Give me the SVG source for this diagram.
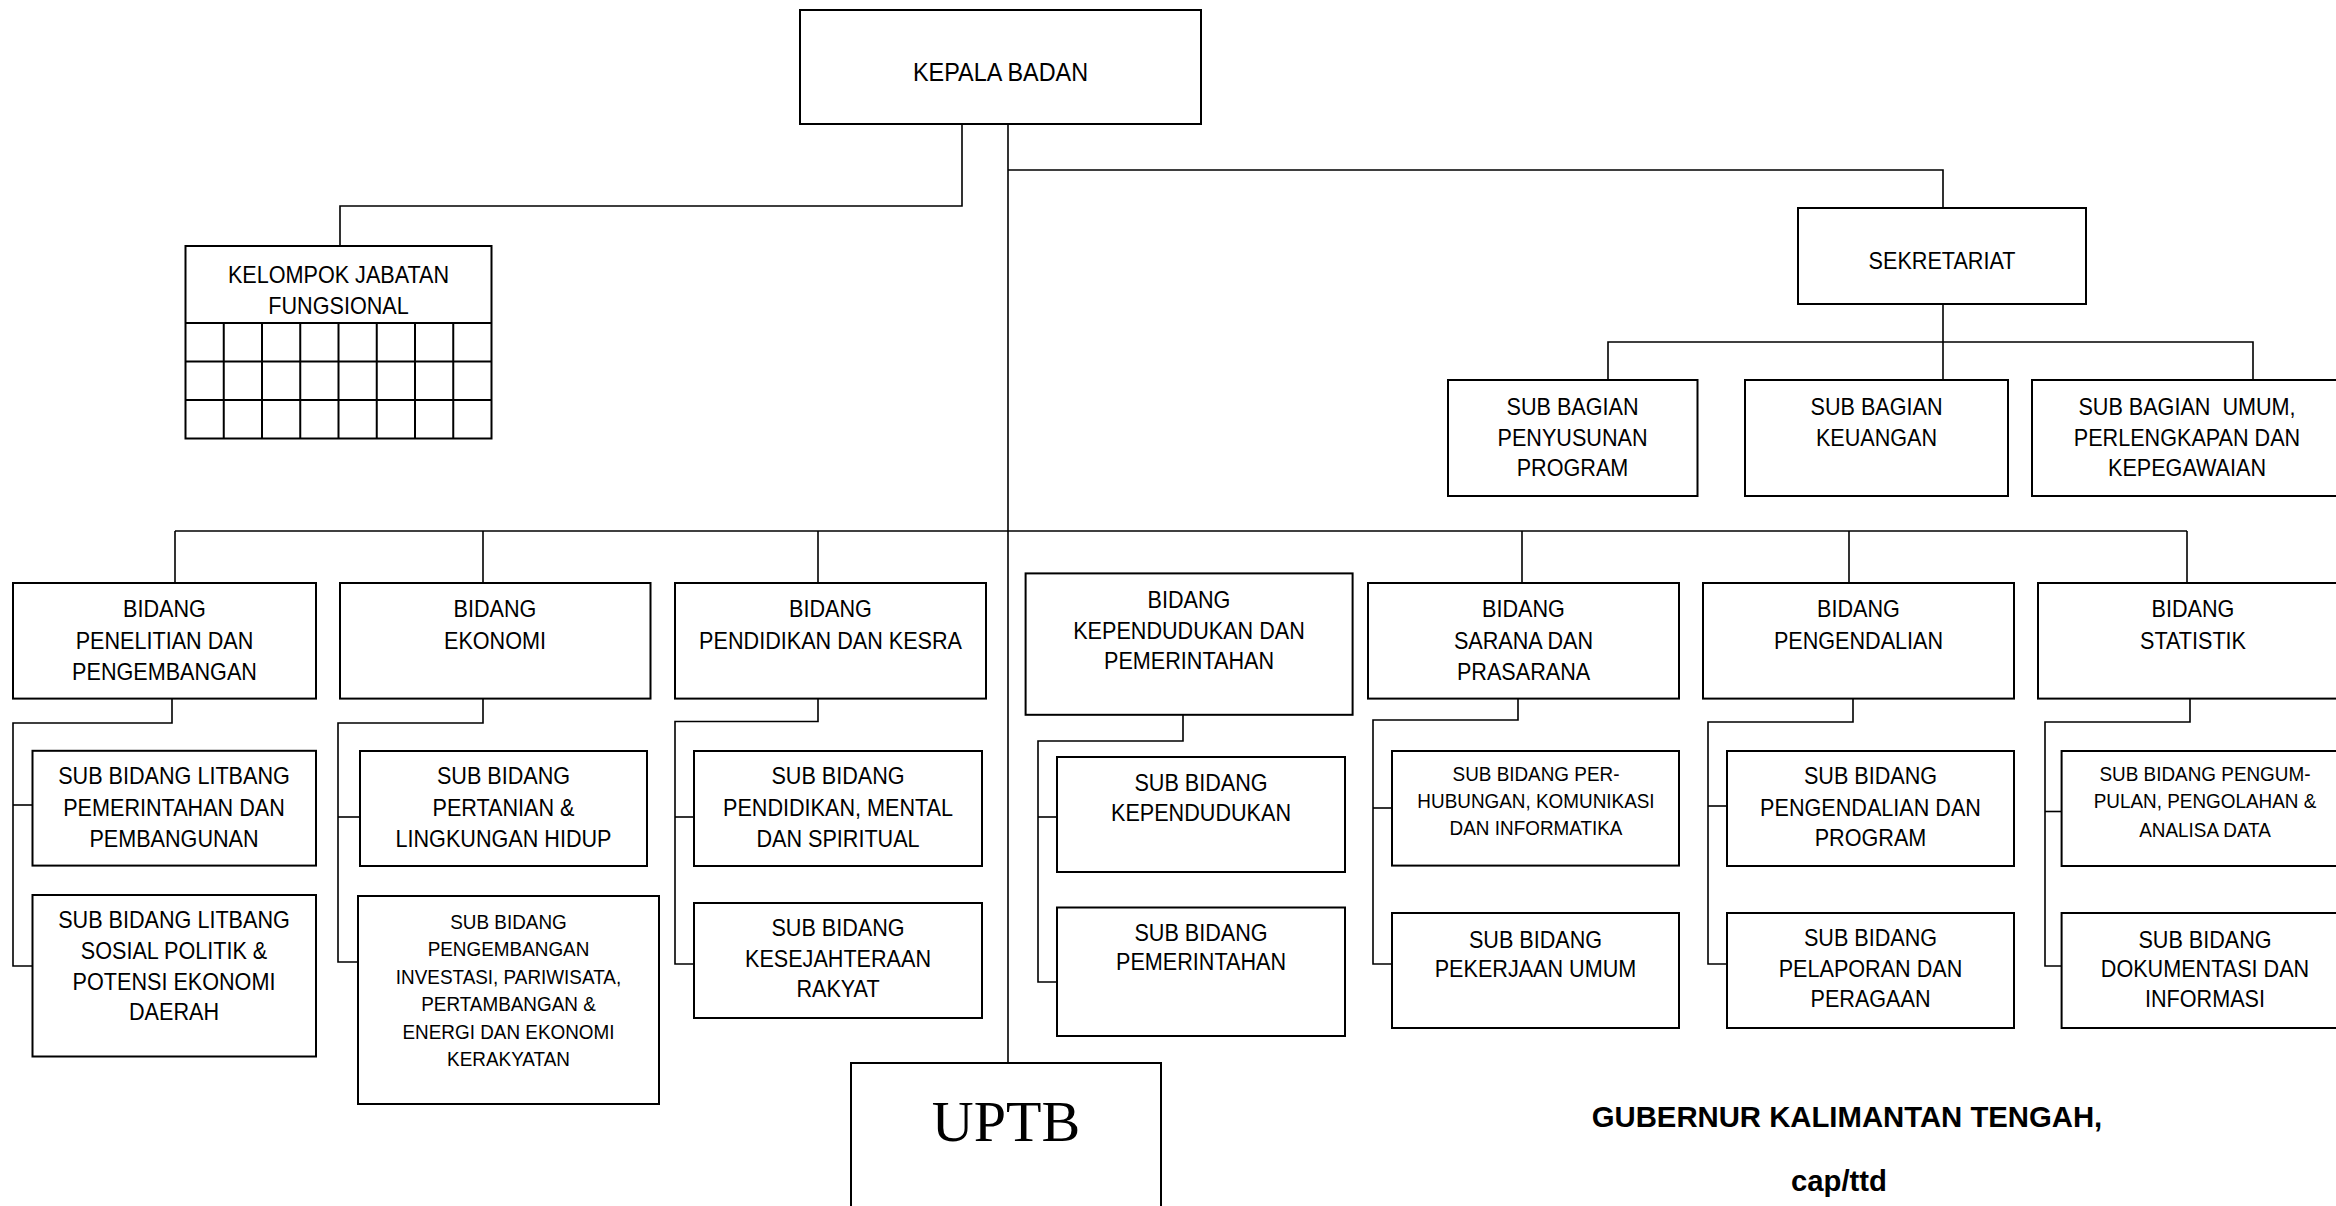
<svg xmlns="http://www.w3.org/2000/svg" width="2336" height="1206" viewBox="0 0 2336 1206">
<style>
.box{fill:#fff;stroke:#000;stroke-width:2}
.ln{fill:none;stroke:#000;stroke-width:1.6}
.t{font-family:"Liberation Sans",Arial,sans-serif;font-size:24px;text-anchor:middle;fill:#000;transform-box:fill-box;transform-origin:center;transform:scaleX(0.9)}
.s{font-size:21px}
.k{font-size:26px}
.b{font-family:"Liberation Sans",Arial,sans-serif;font-weight:bold;font-size:29.3px;text-anchor:middle;fill:#000}
.u{font-family:"Liberation Serif","Times New Roman",serif;font-size:58px;text-anchor:middle;fill:#000}
</style>
<rect width="2336" height="1206" fill="#fff"/>
<g id="connectors">
<polyline class="ln" points="962,124 962,206 340,206 340,246"/>
<line class="ln" x1="1008" y1="124" x2="1008" y2="1063"/>
<polyline class="ln" points="1008,170 1943,170 1943,208"/>
<line class="ln" x1="1943" y1="304" x2="1943" y2="380"/>
<polyline class="ln" points="1608,380 1608,342 2253,342 2253,380"/>
<line class="ln" x1="175" y1="531" x2="2187" y2="531"/>
<line class="ln" x1="175" y1="531" x2="175" y2="583"/>
<line class="ln" x1="483" y1="531" x2="483" y2="583"/>
<line class="ln" x1="818" y1="531" x2="818" y2="583"/>
<line class="ln" x1="1522" y1="531" x2="1522" y2="583"/>
<line class="ln" x1="1849" y1="531" x2="1849" y2="583"/>
<line class="ln" x1="2187" y1="531" x2="2187" y2="583"/>
<polyline class="ln" points="172,699 172,723 13,723 13,966 32,966"/>
<line class="ln" x1="13" y1="805" x2="32" y2="805"/>
<polyline class="ln" points="483,699 483,723 338,723 338,962 358,962"/>
<line class="ln" x1="338" y1="817" x2="360" y2="817"/>
<polyline class="ln" points="818,699 818,721.5 675,721.5 675,964 694,964"/>
<line class="ln" x1="675" y1="817" x2="694" y2="817"/>
<polyline class="ln" points="1183,715 1183,741 1038,741 1038,982 1057,982"/>
<line class="ln" x1="1038" y1="817" x2="1057" y2="817"/>
<polyline class="ln" points="1518,699 1518,720 1373,720 1373,964 1392,964"/>
<line class="ln" x1="1373" y1="808" x2="1392" y2="808"/>
<polyline class="ln" points="1853,699 1853,722 1708,722 1708,964 1727,964"/>
<line class="ln" x1="1708" y1="806" x2="1727" y2="806"/>
<polyline class="ln" points="2190,699 2190,722 2045,722 2045,966 2062,966"/>
<line class="ln" x1="2045" y1="811.5" x2="2062" y2="811.5"/>
</g>
<g id="kepala-badan">
<rect class="box" x="800" y="10" width="401" height="114"/>
<text class="t k" x="1000.5" y="81">KEPALA BADAN</text>
</g>
<g id="kelompok-jabatan-fungsional">
<rect class="box" x="185.5" y="246" width="306" height="192.5"/>
<path class="ln" d="M185.5 323H491.5M185.5 361.5H491.5M185.5 400H491.5M223.75 323V438.5M262 323V438.5M300.25 323V438.5M338.5 323V438.5M376.75 323V438.5M415 323V438.5M453.25 323V438.5" style="stroke-width:2"/>
<text class="t" x="338.5" y="283">KELOMPOK JABATAN</text>
<text class="t" x="338.5" y="314">FUNGSIONAL</text>
</g>
<g id="sekretariat">
<rect class="box" x="1798" y="208" width="288" height="96"/>
<text class="t" x="1942" y="269">SEKRETARIAT</text>
</g>
<g id="sub-bagian-penyusunan-program">
<rect class="box" x="1448" y="380" width="249.5" height="116"/>
<text class="t" x="1572.5" y="415">SUB BAGIAN</text>
<text class="t" x="1572.5" y="446">PENYUSUNAN</text>
<text class="t" x="1572.5" y="476">PROGRAM</text>
</g>
<g id="sub-bagian-keuangan">
<rect class="box" x="1745" y="380" width="263" height="116"/>
<text class="t" x="1876.5" y="415">SUB BAGIAN</text>
<text class="t" x="1876.5" y="446">KEUANGAN</text>
</g>
<g id="sub-bagian-umum">
<rect class="box" x="2032" y="380" width="310" height="116"/>
<text class="t" x="2187" y="415" xml:space="preserve">SUB BAGIAN  UMUM,</text>
<text class="t" x="2187" y="446">PERLENGKAPAN DAN</text>
<text class="t" x="2187" y="476">KEPEGAWAIAN</text>
</g>
<g id="bidang-penelitian">
<rect class="box" x="13" y="583" width="303" height="115.6"/>
<text class="t" x="164.5" y="617.5">BIDANG</text>
<text class="t" x="164.5" y="649">PENELITIAN DAN</text>
<text class="t" x="164.5" y="680">PENGEMBANGAN</text>
</g>
<g id="bidang-ekonomi">
<rect class="box" x="340" y="583" width="310.5" height="115.6"/>
<text class="t" x="495" y="617.5">BIDANG</text>
<text class="t" x="495" y="649">EKONOMI</text>
</g>
<g id="bidang-pendidikan">
<rect class="box" x="675" y="583" width="311" height="115.6"/>
<text class="t" x="830.5" y="617.5">BIDANG</text>
<text class="t" x="830.5" y="649">PENDIDIKAN DAN KESRA</text>
</g>
<g id="bidang-kependudukan">
<rect class="box" x="1025.6" y="573.4" width="327" height="141.4"/>
<text class="t" x="1189" y="608">BIDANG</text>
<text class="t" x="1189" y="638.6">KEPENDUDUKAN DAN</text>
<text class="t" x="1189" y="669">PEMERINTAHAN</text>
</g>
<g id="bidang-sarana">
<rect class="box" x="1368" y="583" width="311" height="115.6"/>
<text class="t" x="1523.5" y="617.5">BIDANG</text>
<text class="t" x="1523.5" y="649">SARANA DAN</text>
<text class="t" x="1523.5" y="680">PRASARANA</text>
</g>
<g id="bidang-pengendalian">
<rect class="box" x="1703" y="583" width="311" height="115.6"/>
<text class="t" x="1858.5" y="617.5">BIDANG</text>
<text class="t" x="1858.5" y="649">PENGENDALIAN</text>
</g>
<g id="bidang-statistik">
<rect class="box" x="2038" y="583" width="312" height="115.6"/>
<text class="t" x="2193" y="617.5">BIDANG</text>
<text class="t" x="2193" y="649">STATISTIK</text>
</g>
<g id="sub-litbang-pemerintahan">
<rect class="box" x="32.5" y="750.8" width="283.5" height="114.8"/>
<text class="t" x="174" y="784.5">SUB BIDANG LITBANG</text>
<text class="t" x="174" y="816">PEMERINTAHAN DAN</text>
<text class="t" x="174" y="847.5">PEMBANGUNAN</text>
</g>
<g id="sub-litbang-sosial">
<rect class="box" x="32.5" y="895" width="283.5" height="161.5"/>
<text class="t" x="174" y="928.5">SUB BIDANG LITBANG</text>
<text class="t" x="174" y="959.5">SOSIAL POLITIK &amp;</text>
<text class="t" x="174" y="990">POTENSI EKONOMI</text>
<text class="t" x="174" y="1020.5">DAERAH</text>
</g>
<g id="sub-pertanian">
<rect class="box" x="360" y="751" width="287" height="115"/>
<text class="t" x="503.5" y="784.5">SUB BIDANG</text>
<text class="t" x="503.5" y="816">PERTANIAN &amp;</text>
<text class="t" x="503.5" y="847.5">LINGKUNGAN HIDUP</text>
</g>
<g id="sub-investasi">
<rect class="box" x="358" y="896" width="301" height="208"/>
<text class="t s" x="508.5" y="929">SUB BIDANG</text>
<text class="t s" x="508.5" y="956.5">PENGEMBANGAN</text>
<text class="t s" x="508.5" y="984">INVESTASI, PARIWISATA,</text>
<text class="t s" x="508.5" y="1011.5">PERTAMBANGAN &amp;</text>
<text class="t s" x="508.5" y="1039">ENERGI DAN EKONOMI</text>
<text class="t s" x="508.5" y="1066.5">KERAKYATAN</text>
</g>
<g id="sub-pendidikan">
<rect class="box" x="694" y="751" width="288" height="115"/>
<text class="t" x="838" y="784.5">SUB BIDANG</text>
<text class="t" x="838" y="816">PENDIDIKAN, MENTAL</text>
<text class="t" x="838" y="847.5">DAN SPIRITUAL</text>
</g>
<g id="sub-kesejahteraan">
<rect class="box" x="694" y="903" width="288" height="115"/>
<text class="t" x="838" y="936.5">SUB BIDANG</text>
<text class="t" x="838" y="967">KESEJAHTERAAN</text>
<text class="t" x="838" y="997.5">RAKYAT</text>
</g>
<g id="sub-kependudukan">
<rect class="box" x="1057" y="757" width="288" height="115"/>
<text class="t" x="1201" y="791">SUB BIDANG</text>
<text class="t" x="1201" y="821">KEPENDUDUKAN</text>
</g>
<g id="sub-pemerintahan">
<rect class="box" x="1057" y="907.5" width="288" height="128.5"/>
<text class="t" x="1201" y="941">SUB BIDANG</text>
<text class="t" x="1201" y="970">PEMERINTAHAN</text>
</g>
<g id="sub-perhubungan">
<rect class="box" x="1392" y="751" width="287" height="114.6"/>
<text class="t s" x="1536" y="781">SUB BIDANG PER-</text>
<text class="t s" x="1536" y="808.5">HUBUNGAN, KOMUNIKASI</text>
<text class="t s" x="1536" y="835.5">DAN INFORMATIKA</text>
</g>
<g id="sub-pekerjaan-umum">
<rect class="box" x="1392" y="913" width="287" height="115"/>
<text class="t" x="1535.5" y="948">SUB BIDANG</text>
<text class="t" x="1535.5" y="977.5">PEKERJAAN UMUM</text>
</g>
<g id="sub-pengendalian-program">
<rect class="box" x="1727" y="751" width="287" height="115"/>
<text class="t" x="1870.5" y="784.5">SUB BIDANG</text>
<text class="t" x="1870.5" y="816">PENGENDALIAN DAN</text>
<text class="t" x="1870.5" y="846">PROGRAM</text>
</g>
<g id="sub-pelaporan">
<rect class="box" x="1727" y="913" width="287" height="115"/>
<text class="t" x="1870.5" y="946.5">SUB BIDANG</text>
<text class="t" x="1870.5" y="977.5">PELAPORAN DAN</text>
<text class="t" x="1870.5" y="1007">PERAGAAN</text>
</g>
<g id="sub-pengumpulan">
<rect class="box" x="2061.6" y="751" width="286.4" height="115"/>
<text class="t s" x="2205" y="781">SUB BIDANG PENGUM-</text>
<text class="t s" x="2205" y="808.5">PULAN, PENGOLAHAN &amp;</text>
<text class="t s" x="2205" y="837.5">ANALISA DATA</text>
</g>
<g id="sub-dokumentasi">
<rect class="box" x="2061.6" y="913" width="286.4" height="115"/>
<text class="t" x="2205" y="948">SUB BIDANG</text>
<text class="t" x="2205" y="977.5">DOKUMENTASI DAN</text>
<text class="t" x="2205" y="1007">INFORMASI</text>
</g>
<g id="uptb">
<rect class="box" x="851" y="1063" width="310" height="160"/>
<text class="u" x="1006" y="1141">UPTB</text>
</g>
<g id="signature">
<text class="b" x="1847" y="1127">GUBERNUR KALIMANTAN TENGAH,</text>
<text class="b" x="1839" y="1191">cap/ttd</text>
</g>
</svg>
